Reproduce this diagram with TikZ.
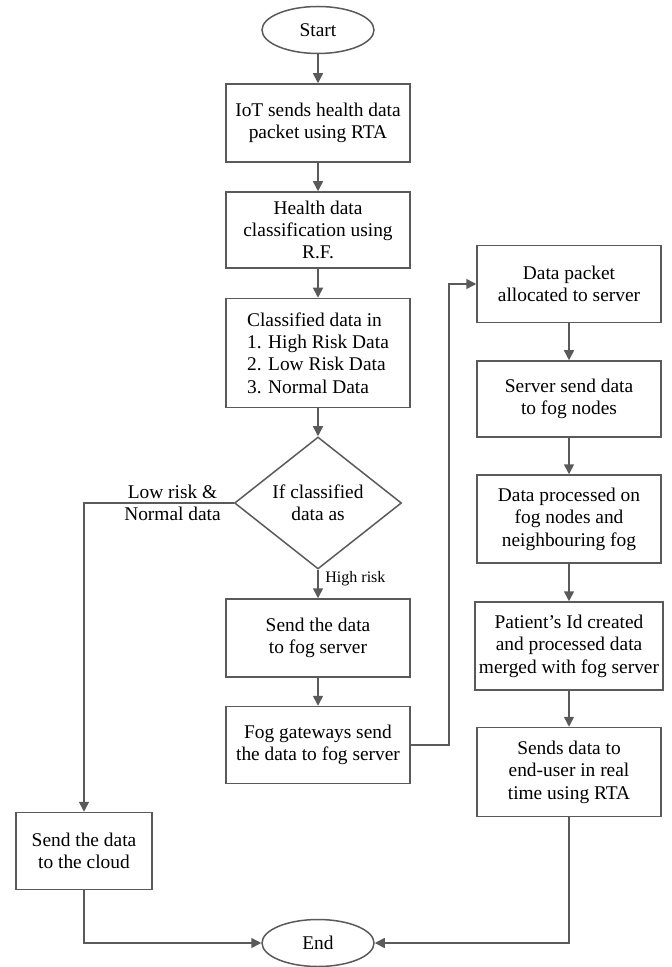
\documentclass[tikz,border=0pt]{standalone}
\usepackage{fontspec}
\setmainfont{Liberation Serif}
\usepackage{tikz}
\usetikzlibrary{shapes.geometric,arrows.meta}
\definecolor{linegray}{HTML}{5A5A5A}

\begin{document}
\begin{tikzpicture}[x=0.5pt, y=-0.5pt,
	every node/.style = {align=center, font=\fontsize{9.7}{11.2}\selectfont},
	terminal/.style = {ellipse, draw=linegray, line width=0.75pt,
		minimum width=56pt, minimum height=23.5pt, inner sep=0pt},
	procbox/.style = {rectangle, draw=linegray, line width=0.75pt,
		minimum width=92pt, inner sep=2pt},
	decision/.style = {diamond, draw=linegray, line width=0.75pt,
		minimum width=83.5pt, minimum height=66pt, inner sep=0pt},
	flow/.style = {draw=linegray, line width=0.75pt,
		-{Triangle[length=5pt,width=5pt]}}]
	\useasboundingbox (0,0) rectangle (672,967);

	\node[terminal] (start) at (318,30) {Start};
	\node[procbox, minimum height=39pt] (iot) at (318,123)
		{IoT sends health data\\packet using RTA};
	\node[procbox, minimum height=38pt] (classify) at (318,230)
		{Health data\\classification using\\R.F.};
	\node[procbox, minimum height=54.5pt, align=left] (classed) at (318,353)
		{Classified data in\\1. High Risk Data\\2. Low Risk Data\\3. Normal Data};
	\node[decision] (decide) at (318,503) {If classified\\data as};
	\node[procbox, minimum height=39pt] (fogsend) at (318,638)
		{Send the data\\to fog server};
	\node[procbox, minimum height=38.5pt] (gateway) at (318,745)
		{Fog gateways send\\the data to fog server};
	\node[procbox, minimum width=68pt, minimum height=38.5pt] (cloud) at (84,851)
		{Send the data\\to the cloud};

	\node[procbox, minimum height=38.5pt] (alloc) at (569,284)
		{Data packet\\allocated to server};
	\node[procbox, minimum height=38pt] (srvsend) at (569,399)
		{Server send data\\to fog nodes};
	\node[procbox, minimum height=44pt] (fogproc) at (569,519)
		{Data processed on\\fog nodes and\\neighbouring fog};
	\node[procbox, minimum height=44pt] (patient) at (569,646)
		{Patient's Id created\\and processed data\\merged with fog server};
	\node[procbox, minimum height=44.5pt] (enduser) at (569,772)
		{Sends data to\\end-user in real\\time using RTA};
	\node[terminal] (finish) at (318,943) {End};

	\draw[flow] (start) -- (iot);
	\draw[flow] (iot) -- (classify);
	\draw[flow] (classify) -- (classed);
	\draw[flow] (classed) -- (decide);
	\draw[flow] (decide) -- node[right, pos=0.3, font=\fontsize{8}{9.5}\selectfont] {High risk} (fogsend);
	\draw[flow] (decide.west) -| (cloud.north);
	\node[anchor=east] (lowlabel) at ([xshift=-3pt]decide.west) {Low risk \&\\Normal data};
	\draw[flow] (fogsend) -- (gateway);
	\draw[flow] (gateway.east) -- ++(38,0) |- (alloc.west);
	\draw[flow] (alloc) -- (srvsend);
	\draw[flow] (srvsend) -- (fogproc);
	\draw[flow] (fogproc) -- (patient);
	\draw[flow] (patient) -- (enduser);
	\draw[flow] (cloud.south) |- (finish.west);
	\draw[flow] (enduser.south) |- (finish.east);
\end{tikzpicture}
\end{document}
